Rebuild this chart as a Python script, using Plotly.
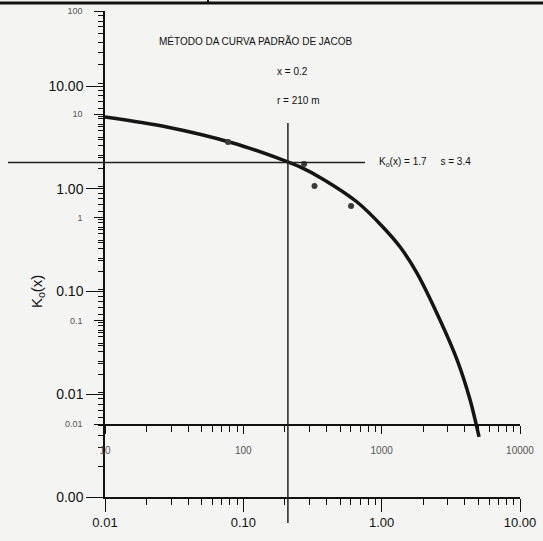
import plotly.graph_objects as go

# ---- data ----
# type curve K0(x) (outer axes)
curve_x = [0.01, 0.028, 0.084, 0.194, 0.257, 0.377, 0.664, 1.02, 1.36, 1.80, 2.64, 3.51, 4.36, 5.06]
curve_k0 = [4.99, 3.99, 2.79, 1.90, 1.63, 1.24, 0.743, 0.425, 0.271, 0.151, 0.0528, 0.0216, 0.00879, 0.00384]
# field data (inner axes): distance r (m) and drawdown s
data_r = [77.5, 275, 327, 601]
data_s = [5.39, 3.30, 2.02, 1.29]
# match point
match_x = 0.2
match_r = 210
match_k0 = 1.7
match_s = 3.4

outer_y_vals = [0.001, 0.01, 0.1, 1, 10]
outer_y_text = ["0.00", "0.01", "0.10", "1.00", "10.00"]
outer_x_vals = [0.01, 0.1, 1, 10]
outer_x_text = ["0.01", "0.10", "1.00", "10.00"]
inner_y_vals = [0.01, 0.1, 1, 10, 100]
inner_y_text = ["0.01", "0.1", "1", "10", "100"]
inner_x_vals = [10, 100, 1000, 10000]
inner_x_text = ["10", "100", "1000", "10000"]

W, H = 543, 541
FONT = "Arial, 'Liberation Sans', sans-serif"
BG = "#f4f4f2"


def minor_vals(e0, e1):
    return [m * 10 ** e for e in range(e0, e1) for m in range(2, 10)]


def px(v):
    return v / W


def py(v):
    return 1 - v / H


fig = go.Figure()

fig.add_trace(go.Scatter(
    x=curve_x, y=curve_k0, mode="lines",
    line=dict(color="#151515", width=3.5, shape="spline", smoothing=0.8),
    xaxis="x", yaxis="y", showlegend=False, hoverinfo="skip"))

fig.add_trace(go.Scatter(
    x=data_r, y=data_s, mode="markers", marker=dict(color="#3a3a3a", size=6),
    xaxis="x2", yaxis="y2", showlegend=False))

xdom = [px(105), px(520)]

common = dict(showline=True, linecolor="#111", linewidth=1.5, showgrid=False, zeroline=False,
              automargin=False, tickmode="array", ticks="outside", tickcolor="#111")

fig.update_layout(
    width=W, height=H, autosize=False,
    margin=dict(l=0, r=0, t=0, b=0, pad=0, autoexpand=False),
    paper_bgcolor=BG, plot_bgcolor="rgba(0,0,0,0)",
    font=dict(family=FONT, color="#111"),
    xaxis=dict(type="log", domain=xdom, range=[-2, 1], anchor="y",
               tickvals=outer_x_vals, ticktext=outer_x_text,
               ticklen=13, tickwidth=1.3,
               tickfont=dict(size=13, color="#111"),
               minor=dict(tickmode="array", tickvals=minor_vals(-2, 1), ticks="outside",
                          ticklen=6, tickwidth=1.2, tickcolor="#111", showgrid=False),
               **common),
    yaxis=dict(type="log", domain=[py(497), py(86)], range=[-3, 1], anchor="x",
               tickvals=outer_y_vals, ticktext=outer_y_text,
               ticklen=17, tickwidth=1.3,
               tickfont=dict(size=14, color="#111"),
               minor=dict(tickmode="array", tickvals=minor_vals(-3, 1), ticks="outside",
                          ticklen=5, tickwidth=1.2, tickcolor="#111", showgrid=False),
               **common),
    xaxis2=dict(type="log", domain=xdom, range=[1, 4], anchor="y2",
                tickvals=inner_x_vals, ticktext=inner_x_text,
                ticklen=8, tickwidth=1.2, ticklabelstandoff=8,
                tickfont=dict(size=10, color="#555"),
                minor=dict(tickmode="array", tickvals=minor_vals(1, 4), ticks="outside",
                           ticklen=6, tickwidth=1.2, tickcolor="#111", showgrid=False),
                **common),
    yaxis2=dict(type="log", domain=[py(424), py(11)], range=[-2, 2], anchor="x2",
                tickvals=inner_y_vals, ticktext=inner_y_text,
                ticklen=9, tickwidth=1.2, ticklabelstandoff=10,
                tickfont=dict(size=9, color="#555"),
                minor=dict(tickmode="array", tickvals=minor_vals(-2, 2), ticks="outside",
                           ticklen=5, tickwidth=1.2, tickcolor="#111", showgrid=False),
                **common),
)

# match-point crosshair through the scales of the field-data axes
fig.add_shape(type="line", xref="x2", x0=match_r, x1=match_r, yref="paper", y0=py(523), y1=py(123),
              line=dict(color="#222", width=1.5))
fig.add_shape(type="line", yref="y2", y0=match_s, y1=match_s, xref="paper", x0=px(8), x1=px(365),
              line=dict(color="#222", width=1.5))

# scanned page border at the top
fig.add_shape(type="line", xref="paper", yref="paper", x0=0, x1=1, y0=py(3), y1=py(3),
              line=dict(color="#111", width=3))
fig.add_shape(type="line", xref="paper", yref="paper", x0=px(208), x1=px(208), y0=py(3), y1=1,
              line=dict(color="#111", width=2))

ann = dict(xref="paper", yref="paper", showarrow=False, font=dict(family=FONT, size=10, color="#111"))
fig.add_annotation(text="MÉTODO DA CURVA PADRÃO DE JACOB", x=px(256), y=py(41),
                   xanchor="center", yanchor="middle", **ann)
fig.add_annotation(text=f"x = {match_x}", x=px(275), y=py(71), xanchor="left", yanchor="middle", **ann)
fig.add_annotation(text=f"r = {match_r} m", x=px(275), y=py(100), xanchor="left", yanchor="middle", **ann)
fig.add_annotation(text=f"K<sub>o</sub>(x) = {match_k0}     s = {match_s}", x=px(377), y=py(162),
                   xanchor="left", yanchor="middle", **ann)
fig.add_annotation(text="K<sub>o</sub>(x)", x=px(37), y=py(292), textangle=-90,
                   xref="paper", yref="paper", showarrow=False, xanchor="center", yanchor="middle",
                   font=dict(family=FONT, size=15, color="#111"))

fig.write_html("out.html")
